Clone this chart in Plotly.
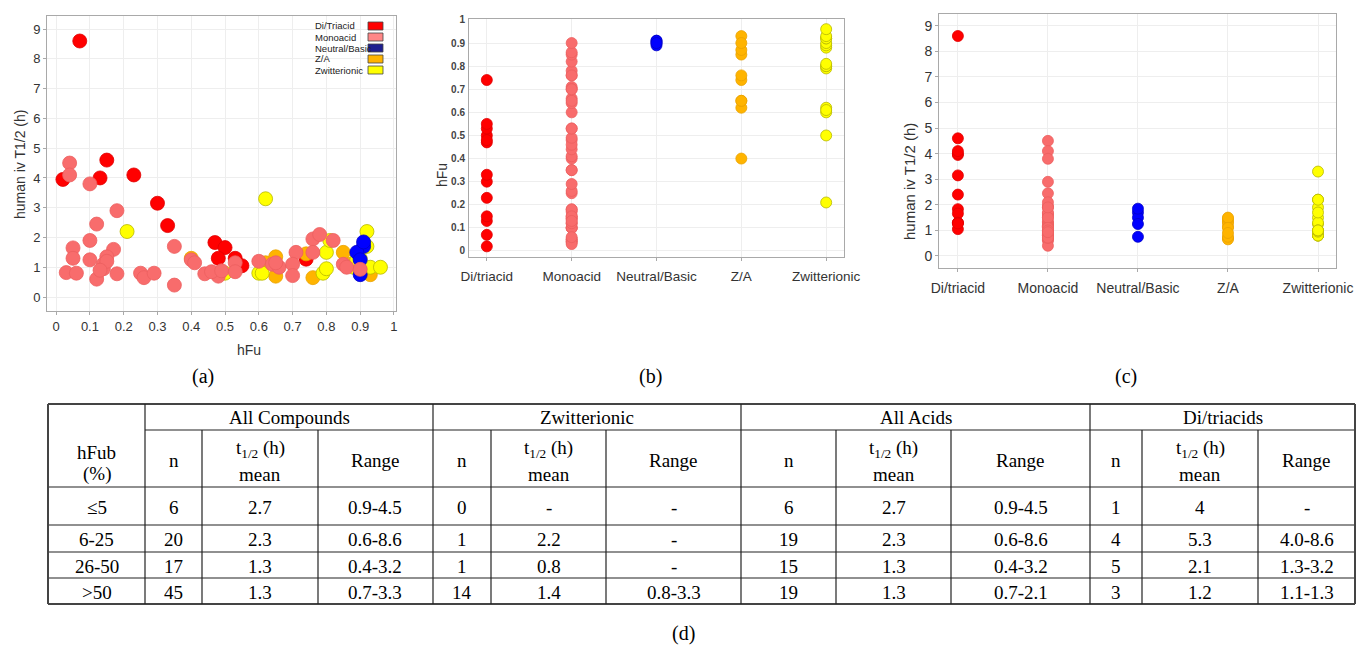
import plotly.graph_objects as go

# ---------------- data ----------------
categories = ["Di/triacid", "Monoacid", "Neutral/Basic", "Z/A", "Zwitterionic"]
legend_names = ["Di/Triacid", "Monoacid", "Neutral/Basic", "Z/A", "Zwitterionic"]

di_hfu = [0.07, 0.02, 0.13, 0.15, 0.23, 0.30, 0.33, 0.47, 0.50, 0.48, 0.53, 0.55, 0.74]
di_t = [8.6, 3.95, 4.0, 4.6, 4.1, 3.15, 2.4, 1.83, 1.66, 1.3, 1.3, 1.05, 1.27]

mono_hfu = [0.04, 0.04, 0.10, 0.18, 0.12, 0.10, 0.05, 0.05, 0.10, 0.17, 0.15, 0.14, 0.14, 0.03,
            0.06, 0.12, 0.18, 0.25, 0.15, 0.13,
            0.26, 0.29, 0.35, 0.35, 0.40, 0.41, 0.44, 0.48, 0.46, 0.49,
            0.53, 0.53, 0.60, 0.64, 0.66, 0.65, 0.71, 0.70, 0.70, 0.76, 0.78, 0.76, 0.82, 0.85,
            0.86, 0.90]
mono_t = [4.5, 4.1, 3.8, 2.9, 2.45, 1.9, 1.65, 1.3, 1.25, 1.6, 1.35, 1.1, 0.95, 0.82,
          0.8, 0.6, 0.78, 0.8, 1.2, 0.9,
          0.65, 0.8, 1.7, 0.4, 1.25, 1.15, 0.78, 0.7, 0.85, 0.88,
          1.15, 0.85, 1.2, 1.1, 1.0, 1.15, 1.5, 1.1, 0.72, 1.95, 2.1, 1.5, 1.9, 1.1,
          1.0, 0.93]

neutral_hfu = [0.91, 0.90, 0.89, 0.91, 0.90]
neutral_t = [1.7, 0.75, 1.5, 1.85, 1.25]

za_hfu = [0.40, 0.62, 0.65, 0.65, 0.74, 0.76, 0.85, 0.87, 0.93, 0.90]
za_t = [1.3, 1.15, 1.35, 0.7, 1.45, 0.65, 1.5, 1.1, 0.75, 0.9]

zw_hfu = [0.21, 0.50, 0.62, 0.60, 0.61, 0.79, 0.80, 0.80, 0.81, 0.88, 0.89, 0.90, 0.92, 0.92,
          0.93, 0.96]
zw_t = [2.2, 0.8, 3.3, 0.8, 0.8, 0.8, 0.95, 1.5, 1.9, 1.0, 1.25, 1.3, 2.2, 1.7, 1.0, 1.0]

x_ticks_a = [0, 0.1, 0.2, 0.3, 0.4, 0.5, 0.6, 0.7, 0.8, 0.9, 1]
x_ticktext_a = ["0", "0.1", "0.2", "0.3", "0.4", "0.5", "0.6", "0.7", "0.8", "0.9", "1"]
y_ticks_t = [0, 1, 2, 3, 4, 5, 6, 7, 8, 9]
y_ticks_b = [0, 0.1, 0.2, 0.3, 0.4, 0.5, 0.6, 0.7, 0.8, 0.9, 1]
y_ticktext_b = ["0", "0.1", "0.2", "0.3", "0.4", "0.5", "0.6", "0.7", "0.8", "0.9", "1"]

# table (d)
table_groups = ["All Compounds", "Zwitterionic", "All Acids", "Di/triacids"]
hfub_bins = ["≤5", "6-25", "26-50", ">50"]
all_n = ["6", "20", "17", "45"]
all_mean = ["2.7", "2.3", "1.3", "1.3"]
all_range = ["0.9-4.5", "0.6-8.6", "0.4-3.2", "0.7-3.3"]
zw_n = ["0", "1", "1", "14"]
zw_mean = ["-", "2.2", "0.8", "1.4"]
zw_range = ["-", "-", "-", "0.8-3.3"]
acid_n = ["6", "19", "15", "19"]
acid_mean = ["2.7", "2.3", "1.3", "1.3"]
acid_range = ["0.9-4.5", "0.6-8.6", "0.4-3.2", "0.7-2.1"]
dt_n = ["1", "4", "5", "3"]
dt_mean = ["4", "5.3", "2.1", "1.2"]
dt_range = ["-", "4.0-8.6", "1.3-3.2", "1.1-1.3"]

# ---------------- styling ----------------
W, H = 1356, 648
SANS = "Liberation Sans, Arial, sans-serif"
SERIF = "Liberation Serif, Times New Roman, serif"


def px(x):
    return x / W


def py(y):
    return 1 - y / H


groups = [
    ("di", di_hfu, di_t, 0, "#ff0000", "#e00000", "#ff0000"),
    ("mono", mono_hfu, mono_t, 1, "#f86c6c", "#ec6060", "#ff8787"),
    ("neutral", neutral_hfu, neutral_t, 2, "#0000ff", "#0000c8", "#1e1e8f"),
    ("za", za_hfu, za_t, 3, "#ffb400", "#eaa200", "#ffb400"),
    ("zw", zw_hfu, zw_t, 4, "#ffff00", "#b8b800", "#ffff00"),
]

fig = go.Figure()

# panel (a) draw order
order_a = [0, 3, 4, 2, 1]
for gi in order_a:
    name, hfu, t, ci, fill, edge, _ = groups[gi]
    fig.add_trace(go.Scatter(
        x=hfu, y=t, mode="markers", xaxis="x", yaxis="y", showlegend=False,
        marker=dict(size=14, color=fill, line=dict(color=edge, width=0.8)),
        hoverinfo="skip"))

for name, hfu, t, ci, fill, edge, _ in groups:
    fig.add_trace(go.Scatter(
        x=[categories[ci]] * len(hfu), y=hfu, mode="markers", xaxis="x2", yaxis="y2",
        showlegend=False, marker=dict(size=11, color=fill, line=dict(color=edge, width=0.8)),
        hoverinfo="skip"))
    fig.add_trace(go.Scatter(
        x=[categories[ci]] * len(t), y=t, mode="markers", xaxis="x3", yaxis="y3",
        showlegend=False, marker=dict(size=11, color=fill, line=dict(color=edge, width=0.8)),
        hoverinfo="skip"))

axis_common = dict(showline=True, mirror=True, linecolor="#a9a9a9", linewidth=1,
                   showgrid=True, gridcolor="#eeeeee", zeroline=False,
                   ticks="outside", ticklen=3, tickcolor="#a9a9a9",
                   ticklabeloverflow="allow")

fig.update_layout(
    width=W, height=H, margin=dict(l=0, r=0, t=0, b=0, autoexpand=False),
    paper_bgcolor="white", plot_bgcolor="white",
    font=dict(family=SANS, color="#333333"),
    xaxis=dict(axis_common, domain=[px(47), px(396)], range=[-0.027, 1.006],
               tickvals=x_ticks_a, ticktext=x_ticktext_a, tickfont=dict(size=13), anchor="y"),
    yaxis=dict(axis_common, domain=[py(311), py(16)], range=[-0.47, 9.44],
               tickvals=y_ticks_t, tickfont=dict(size=13), anchor="x"),
    xaxis2=dict(axis_common, domain=[px(469), px(844)], range=[-0.21, 4.21],
                type="category", categoryorder="array", categoryarray=categories,
                tickfont=dict(size=13.5), anchor="y2", ticklabelstandoff=4),
    yaxis2=dict(axis_common, domain=[py(257), py(19)], range=[-0.026, 1.004],
                tickvals=y_ticks_b, ticktext=y_ticktext_b,
                tickfont=dict(size=10, color="#444444", weight="bold"),
                anchor="x2", ticks="", ticklabelstandoff=1),
    xaxis3=dict(axis_common, domain=[px(939), px(1336)], range=[-0.21, 4.2],
                type="category", categoryorder="array", categoryarray=categories,
                tickfont=dict(size=14), anchor="y3", ticklabelstandoff=4),
    yaxis3=dict(axis_common, domain=[py(268), py(14)], range=[-0.47, 9.46],
                tickvals=y_ticks_t, tickfont=dict(size=14), anchor="x3"),
)

annotations = []
shapes = []


def text(x, y, s, size, family=SANS, color="#333333", xanchor="center", angle=0):
    annotations.append(dict(x=px(x), y=py(y), xref="paper", yref="paper", text=s,
                            showarrow=False, xanchor=xanchor, yanchor="middle",
                            textangle=angle, font=dict(size=size, family=family, color=color)))


def line(x0, y0, x1, y1, width=1.2, color="#222222"):
    shapes.append(dict(type="line", xref="paper", yref="paper", x0=px(x0), y0=py(y0),
                       x1=px(x1), y1=py(y1), line=dict(color=color, width=width)))


# axis titles
text(20, 165, "human iv T1/2 (h)", 14, angle=-90)
text(249, 350, "hFu", 14)
text(442, 175, "hFu", 14, angle=-90)
text(909, 182, "human iv T1/2 (h)", 15, angle=-90)

# custom legend for (a)
legend_rows = [26, 37, 48, 59, 70]
for i, nm in enumerate(legend_names):
    yc = legend_rows[i]
    text(313, yc, nm, 9.5, color="#222222", xanchor="left")
    shapes.append(dict(type="rect", xref="paper", yref="paper", x0=px(368), x1=px(383),
                       y0=py(yc + 4), y1=py(yc - 4), fillcolor=groups[i][6],
                       line=dict(color="#444444", width=0.8)))

# panel labels
text(203, 376, "(a)", 20, family=SERIF, color="black")
text(650, 376, "(b)", 20, family=SERIF, color="black")
text(1126, 376, "(c)", 20, family=SERIF, color="black")
text(683, 633, "(d)", 20, family=SERIF, color="black")

# ---------------- table (d) ----------------
xl = [48, 145, 202, 318, 433, 491, 606, 741, 836, 951, 1090, 1142, 1258, 1355]
yl = [404, 430, 487, 525, 552, 578, 604]
# horizontal
line(xl[0], yl[0], xl[-1], yl[0], 2, "#444444")
line(xl[1], yl[1], xl[-1], yl[1])
for yy in yl[2:-1]:
    line(xl[0], yy, xl[-1], yy)
line(xl[0], yl[-1], xl[-1], yl[-1], 2, "#444444")
# vertical
line(xl[0], yl[0], xl[0], yl[-1], 2, "#444444")
line(xl[-1], yl[0], xl[-1], yl[-1], 2, "#444444")
for xx in [xl[1], xl[4], xl[7], xl[10]]:
    line(xx, yl[0], xx, yl[-1])
for xx in [xl[2], xl[3], xl[5], xl[6], xl[8], xl[9], xl[11], xl[12]]:
    line(xx, yl[1], xx, yl[-1])

FS = 19
group_starts = [1, 4, 7, 10]
for gi, g in enumerate(table_groups):
    s = group_starts[gi]
    text((xl[s] + xl[s + 3]) / 2, 417, g, FS, SERIF, "black")
    text((xl[s] + xl[s + 1]) / 2, 460, "n", FS, SERIF, "black")
    text((xl[s + 1] + xl[s + 2]) / 2, 449, "t<sub>1/2</sub> (h)", FS, SERIF, "black")
    text((xl[s + 1] + xl[s + 2]) / 2, 474, "mean", FS, SERIF, "black")
    text((xl[s + 2] + xl[s + 3]) / 2, 460, "Range", FS, SERIF, "black")
text((xl[0] + xl[1]) / 2, 452, "hFub", FS, SERIF, "black")
text((xl[0] + xl[1]) / 2, 474, "(%)", FS, SERIF, "black")

row_y = [507, 539, 566, 592]
cols = [hfub_bins, all_n, all_mean, all_range, zw_n, zw_mean, zw_range,
        acid_n, acid_mean, acid_range, dt_n, dt_mean, dt_range]
for ci, col in enumerate(cols):
    xc = (xl[ci] + xl[ci + 1]) / 2
    for ri, val in enumerate(col):
        text(xc, row_y[ri], val, FS, SERIF, "black")

fig.update_layout(annotations=annotations, shapes=shapes)

fig.write_html("out.html", config={"displayModeBar": False},
               post_script="document.body.style.margin='0';")
